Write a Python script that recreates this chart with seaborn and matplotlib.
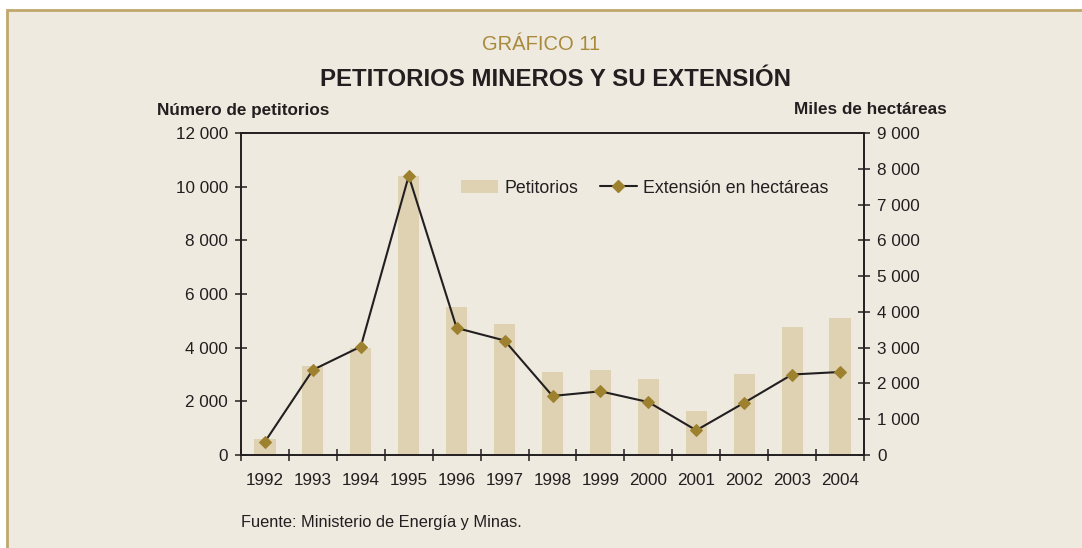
import matplotlib
matplotlib.use("Agg")
import matplotlib.pyplot as plt
import seaborn as sns
import pandas as pd
from matplotlib.patches import Rectangle, Patch
from matplotlib.lines import Line2D
from matplotlib.ticker import FuncFormatter, FixedLocator

# ---- data ----
years = ["1992", "1993", "1994", "1995", "1996", "1997", "1998", "1999",
         "2000", "2001", "2002", "2003", "2004"]
petitorios = [600, 3300, 4000, 10400, 5500, 4900, 3100, 3150, 2850, 1650, 3020, 4780, 5100]
extension = [370, 2380, 3030, 7800, 3550, 3200, 1650, 1780, 1480, 690, 1460, 2250, 2320]
left_ticks = [0, 2000, 4000, 6000, 8000, 10000, 12000]
right_ticks = [0, 1000, 2000, 3000, 4000, 5000, 6000, 7000, 8000, 9000]

BG = "#EEEAE0"
BAR = "#DFD2B2"
GOLD = "#9E812F"
BORDER = "#C0A86C"
TITLEGOLD = "#A9893B"
TXT = "#231F20"

sns.set_theme(style="white")
plt.rcParams["font.family"] = ["Liberation Sans", "DejaVu Sans"]

W, H = 1082, 548
fig = plt.figure(figsize=(W / 100, H / 100), dpi=100, facecolor="white")
fig.patches.append(Rectangle((7 / W, -0.1), 1.2, 1 - 10.5 / H + 0.1,
                             transform=fig.transFigure, facecolor=BG,
                             edgecolor=BORDER, linewidth=2, zorder=-10))

ax = fig.add_axes([241 / W, 93 / H, 623 / W, 322 / H])
ax.set_facecolor(BG)
df = pd.DataFrame({"year": years, "pet": petitorios, "ext": extension})

sns.barplot(data=df, x="year", y="pet", color=BAR, width=0.44, ax=ax,
            saturation=1, edgecolor="none", linewidth=0, zorder=2)
ax.set_xlim(-0.5, len(years) - 0.5)
ax.set_ylim(0, 12000)

ax2 = ax.twinx()
sns.lineplot(data=df, x="year", y="ext", color=TXT, linewidth=1.5, ax=ax2,
             marker="D", markersize=6.5, markerfacecolor=GOLD,
             markeredgecolor=GOLD, sort=False, zorder=3)
ax2.set_ylim(0, 9000)
ax2.set_xlim(-0.5, len(years) - 0.5)

fmt = FuncFormatter(lambda v, p: f"{int(v):,}".replace(",", " "))
ax.yaxis.set_major_locator(FixedLocator(left_ticks))
ax.yaxis.set_major_formatter(fmt)
ax2.yaxis.set_major_locator(FixedLocator(right_ticks))
ax2.yaxis.set_major_formatter(fmt)

for a in (ax, ax2):
    a.set_xlabel("")
    a.set_ylabel("")
    for s in a.spines.values():
        s.set_visible(True)
        s.set_color(TXT)
        s.set_linewidth(1.2)

ax.tick_params(axis="y", direction="inout", length=9, width=1.1, color=TXT,
               labelsize=12.3, labelcolor=TXT, pad=5, left=True)
ax2.tick_params(axis="y", direction="inout", length=9, width=1.1, color=TXT,
                labelsize=12.3, labelcolor=TXT, pad=5, right=True)
ax.tick_params(axis="x", which="major", length=0, labelsize=12.3,
               labelcolor=TXT, pad=13)
ax.set_xticks([i - 0.5 for i in range(len(years) + 1)], minor=True)
ax.tick_params(axis="x", which="minor", direction="inout", length=9,
               width=1.1, color=TXT, bottom=True)

handles = [Patch(facecolor=BAR, edgecolor="none"),
           Line2D([], [], color=TXT, linewidth=1.5, marker="D", markersize=6,
                  markerfacecolor=GOLD, markeredgecolor=GOLD)]
ax2.legend(handles, ["Petitorios", "Extensión en hectáreas"], ncol=2,
           frameon=False, loc="center", bbox_to_anchor=(0.648, 0.829),
           fontsize=12.8, handlelength=2.1, handletextpad=0.35,
           columnspacing=1.2, labelcolor=TXT)

fig.text(541 / W, 1 - 45 / H, "GRÁFICO 11", ha="center", va="center",
         fontsize=14.5, color=TITLEGOLD)
fig.text(555 / W, 1 - 80 / H, "PETITORIOS MINEROS Y SU EXTENSIÓN",
         ha="center", va="center", fontsize=17.3, fontweight="bold", color=TXT)
fig.text(157 / W, 1 - 110 / H, "Número de petitorios", ha="left",
         va="center", fontsize=12.3, fontweight="bold", color=TXT)
fig.text(947 / W, 1 - 110 / H, "Miles de hectáreas", ha="right",
         va="center", fontsize=12.3, fontweight="bold", color=TXT)
fig.text(241 / W, 1 - 522 / H, "Fuente: Ministerio de Energía y Minas.",
         ha="left", va="center", fontsize=11.8, color=TXT)

fig.savefig("out.png", dpi=100, facecolor="white")
